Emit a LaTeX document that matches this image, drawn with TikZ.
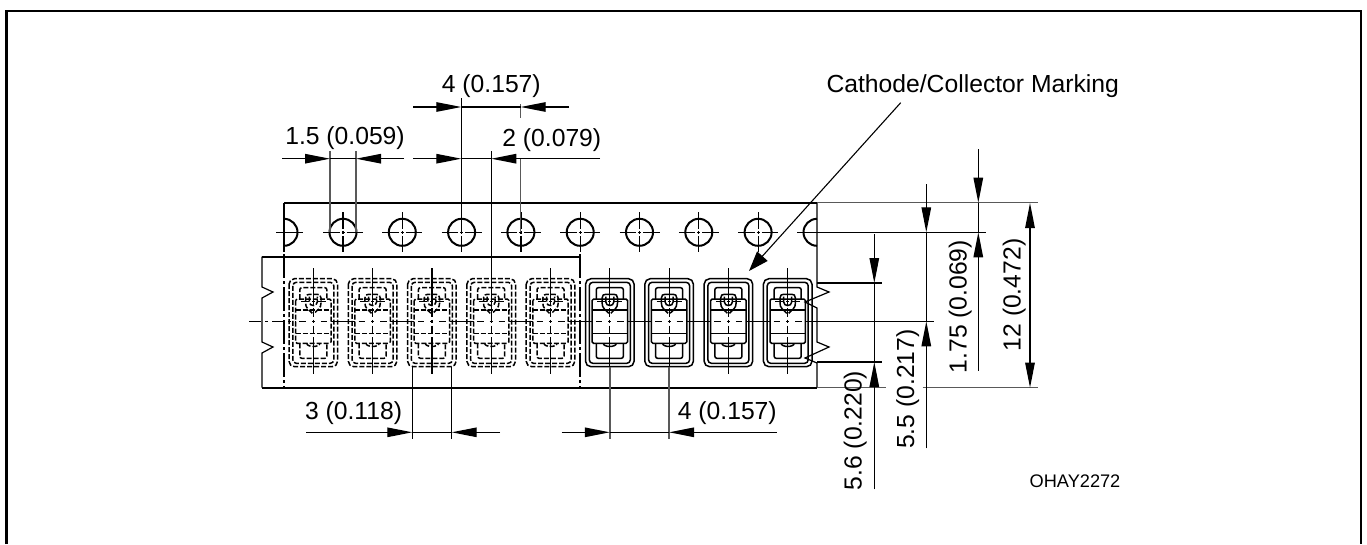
\documentclass[tikz,border=0pt]{standalone}
\usepackage{fontspec}
\setmainfont{Liberation Sans}
\usetikzlibrary{arrows.meta}
\begin{document}
\begin{tikzpicture}[x=1pt,y=-1pt,line cap=butt]
        \tikzstyle{frame}=[line width=2.3pt]
        \tikzstyle{tape}=[line width=2.2pt]
        \tikzstyle{hole}=[circle,draw,line width=2pt,minimum size=27pt,inner sep=0pt]
        \tikzstyle{thin}=[line width=1.2pt]
        \tikzstyle{extline}=[line width=1.4pt,draw=black!65]
        \tikzstyle{dim}=[line width=1.2pt,-{Triangle[length=25pt,width=9.5pt]}]
        \tikzstyle{lead}=[line width=1.1pt,-{Triangle[length=20pt,width=14pt]}]
        \tikzstyle{chainh}=[line width=1.2pt,dash pattern=on 16.5pt off 2pt on 3pt off 2pt on 16.5pt]
        \tikzstyle{chainv}=[line width=1.2pt,dash pattern=on 37pt off 3pt on 8.5pt off 3pt on 3pt off 3pt on 8.5pt off 3pt on 37pt]
        \tikzstyle{chaintape}=[line width=1.2pt,dash pattern=on 24pt off 3pt on 3pt off 3pt]
        \tikzstyle{hidden}=[line width=1.5pt,dash pattern=on 5pt off 2pt]
        \tikzstyle{visible}=[line width=1.5pt]
        \tikzstyle{dimlabel}=[inner sep=0pt,anchor=base,font=\fontsize{24.7}{28}\selectfont]
        \useasboundingbox (0,0) rectangle (1367,544);
        % frame
        \draw[frame] (6.5,544) -- (6.5,11) -- (1360.7,11) -- (1360.7,544);
        % tape
        \draw[tape] (284,203) -- (817,203);
        \draw[tape] (262,256.7) -- (581,256.7);
        \draw[tape] (262,387.7) -- (817,387.7);
        \draw[thin] (262,256.7) -- (262,287) -- (273,292) -- (262,298) -- (262,342) -- (273,347) -- (262,353) -- (262,387.7);
        \draw[thin] (817,203) -- (817,287) -- (829,292) -- (805,302) -- (817,308) -- (817,342) -- (829,347) -- (805,358) -- (817,363) -- (817,387.7);
        \draw[thin] (284,203) -- (284,252);
        \draw[chaintape] (284,254) -- (284,387.7);
        \draw[chaintape] (580,254) -- (580,387.7);
        % holes
        \draw[line width=2pt] (284,218.8) arc (-90:90:13.5);
        \draw[line width=2pt] (817,218.8) arc (-90:-270:13.5);
        \draw[thin] (276,232.3) -- (303,232.3);
        \foreach \xc [count=\i] in {343,402.3,461.6,520.9,580.2,639.5,698.8,758.1} {
          \node[hole] (hole\i) at (\xc,232.3) {};
          \draw[chainh] (\xc-20,232.3) -- (\xc+20,232.3);
          \draw[chainh] (\xc,212.3) -- (\xc,252.3);
        }
        % parts in the pockets
        \foreach \xc/\kind in {313.3/hidden,372.6/hidden,431.9/hidden,491.2/hidden,550.5/hidden,609.8/visible,669.1/visible,728.4/visible,787.7/visible} {
          \draw[\kind,rounded corners=5.5pt] (\xc-24.3,278.7) rectangle (\xc+24.3,366.7);
          \draw[\kind,rounded corners=3.5pt] (\xc-20.5,282.3) rectangle (\xc+20.5,363.3);
          \draw[\kind,rounded corners=2pt] (\xc-13.5,299) -- (\xc-13.5,287.7) -- (\xc+13.5,287.7) -- (\xc+13.5,299);
          \draw[\kind,rounded corners=2pt] (\xc-13.5,343.3) -- (\xc-13.5,358.3) -- (\xc+13.5,358.3) -- (\xc+13.5,343.3);
          \draw[\kind,rounded corners=1.5pt] (\xc-17.7,299) rectangle (\xc+17.7,343.3);
          \draw[\kind] (\xc-17.7,310) -- (\xc+17.7,310);
          \draw[\kind] (\xc-17.7,333.3) -- (\xc+17.7,333.3);
          \draw[\kind] (\xc-1,313.3) .. controls (\xc-4,310) and (\xc-8,308) .. (\xc-7.7,303) -- (\xc-7.7,298) .. controls (\xc-7.7,295) and (\xc-6,294.3) .. (\xc-4,294.3) -- (\xc+4,294.3) .. controls (\xc+6,294.3) and (\xc+7.7,295) .. (\xc+7.7,298) -- (\xc+7.7,303) .. controls (\xc+8,308) and (\xc+4,310) .. (\xc+1,313.3);
          \draw[\kind] (\xc-4,296.7) -- (\xc-4,302) .. controls (\xc-4,306.7) and (\xc+4,306.7) .. (\xc+4,302) -- (\xc+4,296.7);
          \draw[\kind] (\xc-6.5,343.3) .. controls (\xc-6.5,347.5) and (\xc+6.5,347.5) .. (\xc+6.5,343.3);
          \draw[thin,dash pattern=on 8pt off 3pt on 3pt off 3pt on 8pt] (\xc-12.5,301.7) -- (\xc+12.5,301.7);
          \draw[chainv] (\xc,268) -- (\xc,374);
          \draw[thin,dash pattern=on 6.5pt off 6pt on 3pt off 6pt on 6.5pt] (\xc-14,321.3) -- (\xc+14,321.3);
        }
        % centre line of the tape
        \draw[thin,dash pattern=on 12pt off 4pt on 3pt off 4pt] (249,321.3) -- (295.7,321.3);
        \foreach \xa/\xb in {331/355,390.3/414.3,449.6/473.6,508.9/532.9,568.2/592.2,627.5/651.5,686.8/710.8,746.1/770.1,805.4/934} {
          \draw[thin] (\xa,321.3) -- (\xb,321.3);
        }
        % reference points of the dimensions
        \coordinate (p4top) at (461.3,98);
        \coordinate (p4a) at (461.3,107);
        \coordinate (p4aout) at (413,107);
        \coordinate (p4b) at (520.7,107);
        \coordinate (p4bout) at (569,107);
        \coordinate (p4bup) at (520.7,104);
        \coordinate (p4blow) at (520.7,118);
        \coordinate (p4foot) at (461.3,232.3);
        \coordinate (d15a) at (330,158.7);
        \coordinate (d15b) at (356,158.7);
        \coordinate (d15aout) at (282,158.7);
        \coordinate (d15bout) at (404,158.7);
        \coordinate (d15atop) at (330,151);
        \coordinate (d15btop) at (356,151);
        \coordinate (d15afoot) at (330,232.3);
        \coordinate (d15bfoot) at (356,232.3);
        \coordinate (d2a) at (461.3,158.7);
        \coordinate (d2aout) at (413,158.7);
        \coordinate (d2b) at (491.3,158.7);
        \coordinate (d2bout) at (600,158.7);
        \coordinate (d2btop) at (491.3,151);
        \coordinate (d2bfoot) at (491.3,321.3);
        \coordinate (d2ctop) at (520.7,158.7);
        \coordinate (d2cfoot) at (520.7,232.3);
        \coordinate (b3a) at (412.3,432.3);
        \coordinate (b3b) at (451.7,432.3);
        \coordinate (b3aout) at (306,432.3);
        \coordinate (b3bout) at (500,432.3);
        \coordinate (b3atop) at (412.3,366.7);
        \coordinate (b3btop) at (451.7,366.7);
        \coordinate (b3afoot) at (412.3,439.3);
        \coordinate (b3bfoot) at (451.7,439.3);
        \coordinate (b4a) at (609.8,432.3);
        \coordinate (b4b) at (669.1,432.3);
        \coordinate (b4aout) at (561.7,432.3);
        \coordinate (b4bout) at (776.7,432.3);
        \coordinate (b4atop) at (609.8,366.7);
        \coordinate (b4btop) at (669.1,366.7);
        \coordinate (b4afoot) at (609.8,439.3);
        \coordinate (b4bfoot) at (669.1,439.3);
        \coordinate (r12a) at (1030,203);
        \coordinate (r12b) at (1030,387.7);
        \coordinate (r175a) at (978.3,202.7);
        \coordinate (r175b) at (978.3,232.3);
        \coordinate (r175aout) at (978.3,149.3);
        \coordinate (r175bout) at (978.3,370.7);
        \coordinate (r55a) at (926.3,232.3);
        \coordinate (r55b) at (926.3,321.3);
        \coordinate (r55aout) at (926.3,184.3);
        \coordinate (r55bout) at (926.3,448.3);
        \coordinate (r56a) at (874.3,283);
        \coordinate (r56b) at (874.3,362);
        \coordinate (r56aout) at (874.3,234.3);
        \coordinate (r56bout) at (874.3,489.3);
        \coordinate (markend) at (749,271);
        % extension lines
        \draw[extline] (817,202.7) -- (1037.7,202.7);
        \draw[thin] (797,232.3) -- (986,232.3);
        \draw[thin] (817,283) -- (881.7,283);
        \draw[thin] (817,362) -- (881.7,362);
        \draw[extline] (817,387.7) -- (886,387.7);
        \draw[extline] (922.7,387.7) -- (1037.7,387.7);
        \draw[thin] (p4top) -- (p4foot);
        \draw[extline] (p4bup) -- (p4blow);
        \draw[extline] (d15atop) -- (d15afoot);
        \draw[extline] (d15btop) -- (d15bfoot);
        \draw[thin] (d2btop) -- (d2bfoot);
        \draw[extline] (d2ctop) -- (d2cfoot);
        \draw[thin] (b3atop) -- (b3afoot);
        \draw[thin] (b3btop) -- (b3bfoot);
        \draw[extline] (b4atop) -- (b4afoot);
        \draw[extline] (b4btop) -- (b4bfoot);
        % dimensions on top
        \draw[dim] (p4aout) -- (p4a);
        \draw[dim] (p4bout) -- (p4b);
        \draw[thin] (p4a) -- (p4b);
        \draw[dim] (d15aout) -- (d15a);
        \draw[dim] (d15bout) -- (d15b);
        \draw[thin] (d15a) -- (d15b);
        \draw[dim] (d2aout) -- (d2a);
        \draw[dim] (d2bout) -- (d2b);
        \draw[thin] (d2a) -- (d2b);
        % dimensions below
        \draw[dim] (b3aout) -- (b3a);
        \draw[dim] (b3bout) -- (b3b);
        \draw[thin] (b3a) -- (b3b);
        \draw[dim] (b4aout) -- (b4a);
        \draw[dim] (b4bout) -- (b4b);
        \draw[thin] (b4a) -- (b4b);
        % dimensions on the right
        \draw[dim,{Triangle[length=25pt,width=9.5pt]}-{Triangle[length=25pt,width=9.5pt]}] (r12a) -- (r12b);
        \draw[dim] (r175aout) -- (r175a);
        \draw[dim] (r175bout) -- (r175b);
        \draw[thin] (r175a) -- (r175b);
        \draw[dim] (r55aout) -- (r55a);
        \draw[dim] (r55bout) -- (r55b);
        \draw[thin] (r55a) -- (r55b);
        \draw[dim] (r56aout) -- (r56a);
        \draw[dim] (r56bout) -- (r56b);
        \draw[thin] (r56a) -- (r56b);
        % labels
        \node[dimlabel] (pitch) at (491.3,92) {4 (0.157)};
        \node[dimlabel] (holedia) at (345,144) {1.5 (0.059)};
        \node[dimlabel] (holeoff) at (551.8,146) {2 (0.079)};
        \node[dimlabel] (podwidth) at (353.6,419.3) {3 (0.118)};
        \node[dimlabel] (podpitch) at (727.3,419.3) {4 (0.157)};
        \node[dimlabel,rotate=90] (podlen) at (861.7,430.5) {5.6 (0.220)};
        \node[dimlabel,rotate=90] (centre) at (914,389) {5.5 (0.217)};
        \node[dimlabel,rotate=90] (edge) at (966.7,306.7) {1.75 (0.069)};
        \node[dimlabel,rotate=90] (width) at (1020.7,295) {12 (0.472)};
        \node[dimlabel] (marking) at (972.7,92.3) {Cathode/Collector Marking};
        \node[dimlabel,font=\fontsize{18.2}{22}\selectfont] (drawno) at (1075,487.7) {OHAY2272};
        \coordinate (markstart) at (900.7,102.7);
        \draw[lead] (markstart) -- (markend);
\end{tikzpicture}
\end{document}
